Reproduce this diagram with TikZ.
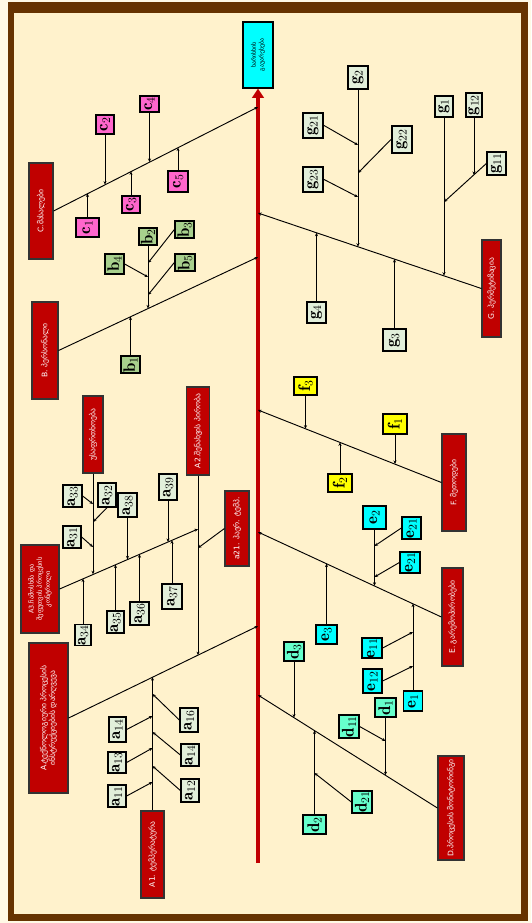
\documentclass[tikz,border=0pt]{standalone}
\usepackage{fontspec}
\newfontfamily\geo{DejaVu Sans}
\usetikzlibrary{arrows.meta}
\definecolor{framebrown}{HTML}{663300}
\definecolor{paper}{HTML}{FFF2CC}
\definecolor{causered}{HTML}{C00000}
\definecolor{cpink}{HTML}{FF66CC}
\definecolor{bgreen}{HTML}{A8D08D}
\definecolor{apale}{HTML}{E2EFDA}
\definecolor{fyellow}{HTML}{FFFF00}
\definecolor{ecyan}{HTML}{00FFFF}
\definecolor{dmint}{HTML}{66FFCC}
\tikzset{
    sz/.style 2 args={minimum height=#1*0.03cm,minimum width=#2*0.03cm},
    lbl/.style={draw=black,line width=1.1pt,rotate=90,inner sep=0pt,font=\Large,sz={19}{21}},
    heavy/.style={line width=1.8pt},
    cause/.style={draw=black!80,line width=1pt,fill=causered,text=white,rotate=90,inner sep=1pt,
                  align=center,font=\geo\fontsize{6.5}{7.5}\selectfont},
    head/.style={draw=black,line width=1pt,fill=ecyan,rotate=90,inner sep=1pt,
                  align=center,font=\geo\fontsize{5}{6.5}\selectfont},
    spine/.style={causered,line width=3pt,-{Triangle[length=8pt,width=10pt]}},
    bone/.style={line width=0.8pt,-{Stealth[length=3pt,width=2.6pt]}}
}
\begin{document}
\begin{tikzpicture}[x=0.03cm,y=-0.03cm]
\useasboundingbox (0,0) rectangle (531,923);
% frame
\fill[paper!50!white] (0,0) rectangle (531,923);
\fill[framebrown] (8,2) rectangle (528,921);
\fill[paper] (14,13) rectangle (521,914);

% head and spine
\node[head,sz={30}{66}] (top) at (258,55) {ხარისხის\\გაუარესება};
\coordinate (tail) at (258,863);
\draw[spine] (tail) -- (top);
\coordinate (sC) at (258,107);
\coordinate (sG) at (258,213);
\coordinate (sB) at (258,257);
\coordinate (sF) at (258,410);
\coordinate (sE) at (258,532);
\coordinate (sA) at (258,626);
\coordinate (sD) at (258,695);

% main causes
\node[cause,sz={24}{96}] (C) at (41,211) {C.მასალები};
\node[cause,sz={26}{97}] (B) at (45,350.5) {B. პერსონალი};
\node[cause,sz={39}{150}] (A) at (48.5,718) {A.ტექნოლოგიური პროცესის\\ინსტრუქციების დარღვევა};
\node[cause,sz={19}{97}] (G) at (491.5,288.5) {G. ჰერმეტიზაცია};
\node[cause,sz={24}{97}] (F) at (454,482.5) {F. მეთოდები};
\node[cause,sz={21}{98}] (E) at (452.5,617) {E. გარემოპირობები};
\node[cause,sz={26}{104}] (D) at (451,808) {D.პროცესის მონიტორინგი};
\draw[bone] (C.south) -- (sC);
\draw[bone] (B.south) -- (sB);
\draw[bone] (A.south) -- (sA);
\draw[bone] (G.north) -- (sG);
\draw[bone] (F.north) -- (sF);
\draw[bone] (E.north) -- (sE);
\draw[bone] (D.north) -- (sD);

% C
\node[lbl,fill=cpink,sz={23}{19}] (c1) at (87.5,227.5) {$\mathbf{c}_1$};
\node[lbl,fill=cpink,sz={18}{19}] (c2) at (105,124.5) {$\mathbf{c}_2$};
\node[lbl,fill=cpink,sz={18}{17}] (c3) at (131,204.5) {$\mathbf{c}_3$};
\node[lbl,fill=cpink,sz={19}{16}] (c4) at (149.5,104) {$\mathbf{c}_4$};
\node[lbl,fill=cpink,sz={20}{21}] (c5) at (178,181.5) {$\mathbf{c}_5$};
\coordinate (pc1) at (87.5,193.5);
\coordinate (pc2) at (105,184.6);
\coordinate (pc3) at (131,171.4);
\coordinate (pc4) at (149.5,162);
\coordinate (pc5) at (178,147.6);
\draw[bone] (c1) -- (pc1);
\draw[bone] (c2) -- (pc2);
\draw[bone] (c3) -- (pc3);
\draw[bone] (c4) -- (pc4);
\draw[bone] (c5) -- (pc5);

% B
\node[lbl,fill=bgreen,sz={19}{17}] (b1) at (130.5,364.5) {$\mathbf{b}_1$};
\node[lbl,fill=bgreen,sz={18}{17}] (b2) at (148,236.5) {$\mathbf{b}_2$};
\node[lbl,fill=bgreen,sz={19}{17}] (b3) at (184.5,229.5) {$\mathbf{b}_3$};
\node[lbl,fill=bgreen,sz={19}{20}] (b4) at (114.5,264) {$\mathbf{b}_4$};
\node[lbl,fill=bgreen,sz={20}{17}] (b5) at (185,262.5) {$\mathbf{b}_5$};
\coordinate (pb1) at (130.5,316.6);
\coordinate (pb2) at (148,308.4);
\coordinate (pb3) at (148,263);
\coordinate (pb4) at (148,277);
\coordinate (pb5) at (148,295);
\draw[bone] (b1) -- (pb1);
\draw[bone] (b2) -- (pb2);
\draw[bone] (b3.north) -- (pb3);
\draw[bone] (b4.south) -- (pb4);
\draw[bone] (b5.north) -- (pb5);

% A1
\node[cause,sz={23}{87}] (A1) at (152.5,854.5) {A1. ტემპერატურა};
\coordinate (pA1) at (152.5,677.1);
\draw[bone] (A1) -- (pA1);
\node[lbl,fill=apale,sz={18}{22}] (a11) at (117,796) {$\mathbf{a}_{11}$};
\node[lbl,fill=apale,sz={18}{21}] (a13) at (117,762.5) {$\mathbf{a}_{13}$};
\node[lbl,fill=apale,sz={17}{25}] (a14) at (117.5,729.5) {$\mathbf{a}_{14}$};
\node[lbl,fill=apale,sz={18}{23}] (a12) at (190,790.5) {$\mathbf{a}_{12}$};
\node[lbl,fill=apale,sz={18}{22}] (a14b) at (190,755) {$\mathbf{a}_{14}$};
\node[lbl,fill=apale,sz={18}{24}] (a16) at (189,720) {$\mathbf{a}_{16}$};
\coordinate (pa11) at (152.5,782);
\coordinate (pa13) at (152.5,748);
\coordinate (pa14) at (152.5,716);
\coordinate (pa12) at (152.5,766);
\coordinate (pa14b) at (152.5,732);
\coordinate (pa16) at (152.5,694);
\draw[bone] (a11.south) -- (pa11);
\draw[bone] (a13.south) -- (pa13);
\draw[bone] (a14.south) -- (pa14);
\draw[bone] (a12.north) -- (pa12);
\draw[bone] (a14b.north) -- (pa14b);
\draw[bone] (a16.north) -- (pa16);

% A2
\node[cause,sz={23}{88}] (A2) at (198,431) {A2.შენახვის პირობა};
\node[cause,sz={24}{75}] (a21) at (237,528.5) {a21. ჰაერ. ტემპ.};
\coordinate (pA2) at (198,655.1);
\coordinate (pa21) at (198,548);
\draw[bone] (A2) -- (pA2);
\draw[bone] (a21.north) -- (pa21);

% A3
\node[cause,sz={38}{88},font=\geo\fontsize{5.5}{7}\selectfont] (A3) at (40,589) {A3.ჩამოსხმა და\\შეფუთვის პროცესის\\კონტროლი};
\coordinate (pA3) at (198,529);
\draw[bone] (A3.south) -- (pA3);
\node[cause,sz={20}{77}] (A3s) at (93,434.5) {უსაფრთხოება};
\coordinate (pA3s) at (93,574.3);
\draw[bone] (A3s) -- (pA3s);
\node[lbl,fill=apale,sz={19}{22}] (a33) at (72.5,496) {$\mathbf{a}_{33}$};
\node[lbl,fill=apale,sz={18}{24}] (a32) at (107,495) {$\mathbf{a}_{32}$};
\node[lbl,fill=apale,sz={18}{22}] (a31) at (72,537) {$\mathbf{a}_{31}$};
\node[lbl,fill=apale,sz={19}{24}] (a38) at (127.5,505) {$\mathbf{a}_{38}$};
\node[lbl,fill=apale,sz={18}{26}] (a39) at (168,487) {$\mathbf{a}_{39}$};
\node[lbl,fill=apale,sz={20}{25}] (a37) at (172,596.5) {$\mathbf{a}_{37}$};
\node[lbl,fill=apale,sz={19}{23}] (a36) at (139.5,613.5) {$\mathbf{a}_{36}$};
\node[lbl,fill=apale,sz={17}{22}] (a35) at (115.5,622) {$\mathbf{a}_{35}$};
\node[lbl,fill=apale,sz={16}{20}] (a34) at (83,635) {$\mathbf{a}_{34}$};
\coordinate (pa33) at (93,504);
\coordinate (pa32) at (93,522);
\coordinate (pa31) at (93,547);
\coordinate (pa38) at (127.5,559.4);
\coordinate (pa39) at (168,541.9);
\coordinate (pa37) at (172,540.2);
\coordinate (pa36) at (139.5,554.2);
\coordinate (pa35) at (115.5,564.6);
\coordinate (pa34) at (83,578.6);
\draw[bone] (a33.south) -- (pa33);
\draw[bone] (a32.west) -- (pa32);
\draw[bone] (a31.south) -- (pa31);
\draw[bone] (a38) -- (pa38);
\draw[bone] (a39) -- (pa39);
\draw[bone] (a37) -- (pa37);
\draw[bone] (a36) -- (pa36);
\draw[bone] (a35) -- (pa35);
\draw[bone] (a34) -- (pa34);

% G
\node[lbl,fill=apale,sz={19}{21}] (g4) at (316.5,312.5) {$\mathbf{g}_4$};
\node[lbl,fill=apale,sz={23}{22}] (g3) at (394.5,340) {$\mathbf{g}_3$};
\node[lbl,fill=apale,heavy,sz={20}{23}] (g2) at (358,77.5) {$\mathbf{g}_2$};
\node[lbl,fill=apale,heavy,sz={20}{25}] (g21) at (313,125.5) {$\mathbf{g}_{21}$};
\node[lbl,fill=apale,heavy,sz={20}{25}] (g23) at (313,179.5) {$\mathbf{g}_{23}$};
\node[lbl,fill=apale,heavy,sz={20}{27}] (g22) at (402,139.5) {$\mathbf{g}_{22}$};
\node[lbl,fill=apale,sz={18}{21}] (g1) at (444,106.5) {$\mathbf{g}_1$};
\node[lbl,fill=apale,sz={16}{24}] (g12) at (474,105) {$\mathbf{g}_{12}$};
\node[lbl,fill=apale,sz={19}{23}] (g11) at (496.5,163.5) {$\mathbf{g}_{11}$};
\coordinate (pg4) at (316.5,232.7);
\coordinate (pg3) at (394.5,259);
\coordinate (pg2) at (358,246.7);
\coordinate (pg1) at (444,275.7);
\coordinate (pg21) at (358,145);
\coordinate (pg23) at (358,197);
\coordinate (pg22) at (358,173);
\coordinate (pg11) at (444,202);
\coordinate (pg12) at (474,175);
\draw[bone] (g4) -- (pg4);
\draw[bone] (g3) -- (pg3);
\draw[bone] (g2) -- (pg2);
\draw[bone] (g1) -- (pg1);
\draw[bone] (g21.south) -- (pg21);
\draw[bone] (g23.south) -- (pg23);
\draw[bone] (g22.north) -- (pg22);
\draw[bone] (g11.north) -- (pg11);
\draw[bone] (g12) -- (pg12);

% F
\node[lbl,fill=fyellow,sz={23}{18}] (f3) at (305.5,386) {$\mathbf{f}_3$};
\node[lbl,fill=fyellow,sz={24}{20}] (f1) at (395,424) {$\mathbf{f}_1$};
\node[lbl,fill=fyellow,sz={24}{18}] (f2) at (340,483) {$\mathbf{f}_2$};
\coordinate (pf3) at (305.5,428.7);
\coordinate (pf1) at (395,464);
\coordinate (pf2) at (340,442.3);
\draw[bone] (f3) -- (pf3);
\draw[bone] (f1) -- (pf1);
\draw[bone] (f2) -- (pf2);

% E
\node[lbl,fill=ecyan,heavy,sz={23}{23}] (e2) at (374.5,517.5) {$\mathbf{e}_2$};
\node[lbl,fill=ecyan,sz={19}{22}] (e21) at (411.5,528) {$\mathbf{e}_{21}$};
\node[lbl,fill=ecyan,sz={20}{21}] (e21b) at (410,562.5) {$\mathbf{e}_{21}$};
\node[lbl,fill=ecyan,heavy,sz={21}{19}] (e3) at (326.5,634.5) {$\mathbf{e}_3$};
\node[lbl,fill=ecyan,sz={19}{20}] (e1) at (413,701) {$\mathbf{e}_1$};
\node[lbl,fill=ecyan,sz={20}{20}] (e11) at (372,648) {$\mathbf{e}_{11}$};
\node[lbl,fill=ecyan,sz={19}{24}] (e12) at (372.5,681) {$\mathbf{e}_{12}$};
\coordinate (pe2) at (374.5,585.8);
\coordinate (pe21) at (374.5,546);
\coordinate (pe21b) at (374.5,577);
\coordinate (pe3) at (326.5,563.6);
\coordinate (pe1) at (413,603.6);
\coordinate (pe11) at (413,632);
\coordinate (pe12) at (413,666);
\draw[bone] (e2) -- (pe2);
\draw[bone] (e21.north) -- (pe21);
\draw[bone] (e21b.north) -- (pe21b);
\draw[bone] (e3) -- (pe3);
\draw[bone] (e1) -- (pe1);
\draw[bone] (e11.south) -- (pe11);
\draw[bone] (e12.south) -- (pe12);

% D
\node[lbl,fill=dmint,sz={20}{19}] (d3) at (294,651.5) {$\mathbf{d}_3$};
\node[lbl,fill=dmint,sz={21}{19}] (d1) at (385.5,707.5) {$\mathbf{d}_1$};
\node[lbl,fill=dmint,sz={20}{23}] (d11) at (349,726.5) {$\mathbf{d}_{11}$};
\node[lbl,fill=dmint,sz={23}{19}] (d2) at (314.5,824.5) {$\mathbf{d}_2$};
\node[lbl,fill=dmint,sz={20}{22}] (d21) at (362,802) {$\mathbf{d}_{21}$};
\coordinate (pd3) at (294,717.6);
\coordinate (pd1) at (385.5,775.1);
\coordinate (pd11) at (385.5,741);
\coordinate (pd2) at (314.5,730.5);
\coordinate (pd21) at (314.5,773);
\draw[bone] (d3) -- (pd3);
\draw[bone] (d1) -- (pd1);
\draw[bone] (d11.south) -- (pd11);
\draw[bone] (d2) -- (pd2);
\draw[bone] (d21.north) -- (pd21);
\end{tikzpicture}
\end{document}
